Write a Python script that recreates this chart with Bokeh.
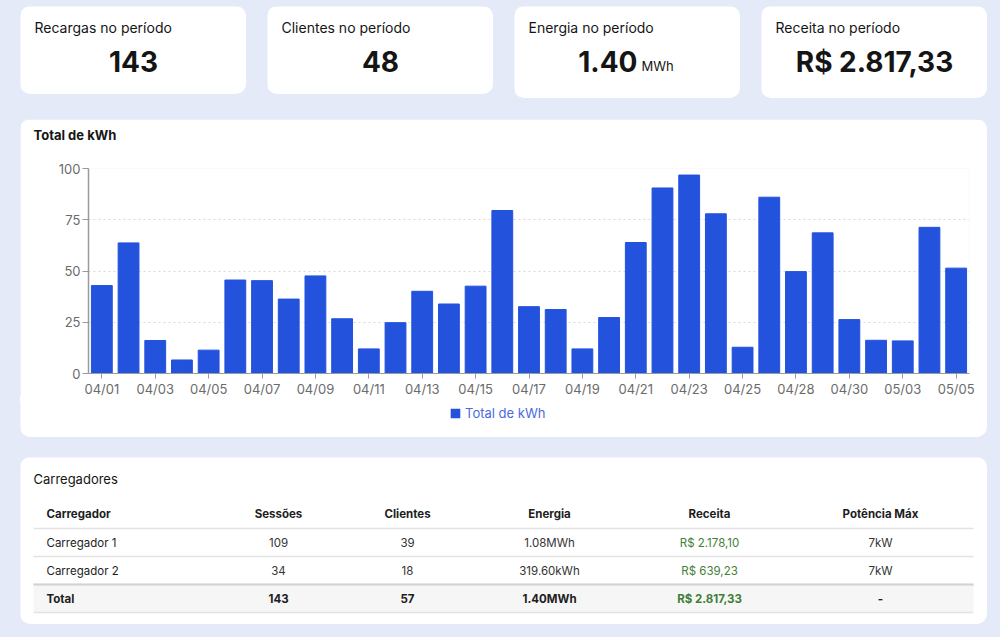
from bokeh.plotting import figure
from bokeh.layouts import column, row
from bokeh.models import Range1d, FixedTicker, Legend, LegendItem, ColumnDataSource, Title
from bokeh.core.properties import value
from bokeh.embed import file_html
from bokeh.resources import INLINE

FONT = "Inter"
PAGE_BG = "#e4eaf7"
BAR_COLOR = "#2352dd"

# ---------------- data ----------------
kpi_titles = ["Recargas no período", "Clientes no período", "Energia no período", "Receita no período"]
kpi_values = ["143", "48", "1.40", "R$ 2.817,33"]
kpi_units = ["", "", "MWh", ""]

dates = ["04/01", "04/02", "04/03", "04/04", "04/05", "04/06", "04/07", "04/08", "04/09", "04/10",
         "04/11", "04/12", "04/13", "04/14", "04/15", "04/16", "04/17", "04/18", "04/19", "04/20",
         "04/21", "04/22", "04/23", "04/24", "04/25", "04/27", "04/28", "04/29", "04/30", "05/02",
         "05/03", "05/04", "05/05"]
kwh = [42.9, 63.7, 16.1, 6.6, 11.4, 45.6, 45.3, 36.3, 47.6, 26.7,
       12.0, 24.8, 40.1, 33.9, 42.6, 79.5, 32.6, 31.2, 12.0, 27.3,
       63.9, 90.5, 96.8, 77.9, 12.8, 86.0, 49.7, 68.6, 26.3, 16.2,
       15.9, 71.3, 51.4]
series_name = "Total de kWh"

table_headers = ["Carregador", "Sessões", "Clientes", "Energia", "Receita", "Potência Máx"]
chargers = ["Carregador 1", "Carregador 2", "Total"]
sessions = ["109", "34", "143"]
clients = ["39", "18", "57"]
energy = ["1.08MWh", "319.60kWh", "1.40MWh"]
revenue = ["R$ 2.178,10", "R$ 639,23", "R$ 2.817,33"]
power = ["7kW", "7kW", "-"]

CARD_STYLE = {"border-radius": "10px", "overflow": "hidden"}


def blank_fig(w, h, styles=CARD_STYLE):
    p = figure(width=w, height=h, x_range=Range1d(0, w), y_range=Range1d(h, 0),
               toolbar_location=None, output_backend="svg", min_border=0,
               x_axis_location=None, y_axis_location=None, styles=styles)
    p.grid.visible = False
    p.outline_line_color = None
    p.background_fill_color = "white"
    p.border_fill_color = "white"
    return p


def page_block(child, h, bg=PAGE_BG):
    return column(child, width=1000, height=h, styles={"background": bg})


# ---------------- KPI cards ----------------
cards = []
heights = [88, 88, 92, 92]
for i in range(4):
    w, h = 226, heights[i]
    c = blank_fig(w, h)
    c.text(x=[14], y=[21], text=[kpi_titles[i]], text_font=value(FONT), text_font_size="14px",
           text_baseline="middle", text_align="left", text_color="#151515")
    if kpi_units[i]:
        c.text(x=[w / 2 + 10], y=[55], text=[kpi_values[i]], text_font=value(FONT),
               text_font_size="28px", text_font_style="bold", text_baseline="middle",
               text_align="right", text_color="#151515")
        c.text(x=[w / 2 + 14], y=[59], text=[kpi_units[i]], text_font=value(FONT),
               text_font_size="13px", text_baseline="middle",
               text_align="left", text_color="#151515")
    else:
        c.text(x=[w / 2], y=[55], text=[kpi_values[i]], text_font=value(FONT),
               text_font_size="28px", text_font_style="bold", text_baseline="middle",
               text_align="center", text_color="#151515")
    c.margin = (0, 21 if i < 3 else 0, 0, 0)
    cards.append(c)

cards_row = row(*cards, margin=(6, 0, 0, 20))

# ---------------- bar chart ----------------
xs = list(range(len(dates)))
src = ColumnDataSource(dict(x=xs, kwh=kwh, date=dates))
p = figure(width=967, height=280, x_range=Range1d(-0.5, len(dates) - 0.5), y_range=Range1d(0, 100),
           toolbar_location=None, output_backend="svg",
           min_border_left=68, min_border_right=18, min_border_top=44, min_border_bottom=25,
           title="Total de kWh",
           styles={"border-radius": "10px 10px 0 0", "overflow": "hidden"})
p.margin = (0, 0, 0, 20)
p.background_fill_color = "white"
p.border_fill_color = "white"
p.outline_line_color = None
p.title.text_font = FONT
p.title.text_font_size = "13px"
p.title.text_font_style = "bold"
p.title.text_color = "#151515"
p.title.align = "left"
p.title.offset = -55
# small empty title between the main title and the frame, lifting the title up
p.add_layout(Title(text="\u00a0", text_font_size="8px", text_color="white"), "above")

r = p.vbar(x="x", top="kwh", width=0.78, source=src, fill_color=BAR_COLOR, line_color=BAR_COLOR)

p.xgrid.visible = False
p.ygrid.grid_line_color = "#d9d9d9"
p.ygrid.grid_line_dash = "2 3"
p.ygrid.ticker = FixedTicker(ticks=[25, 50, 75, 100])

p.yaxis.ticker = FixedTicker(ticks=[0, 25, 50, 75, 100])
p.yaxis.minor_tick_line_color = None
p.yaxis.major_tick_in = 0
p.yaxis.major_tick_out = 6
p.yaxis.axis_line_color = "#9a9a9a"
p.yaxis.axis_line_width = 1.5
p.yaxis.major_tick_line_color = "#9a9a9a"
p.yaxis.major_label_text_font = FONT
p.yaxis.major_label_text_font_size = "13px"
p.yaxis.major_label_text_color = "#6b6b6b"
p.yaxis.major_label_standoff = 2

tick_idx = xs[::2]
p.xaxis.ticker = FixedTicker(ticks=tick_idx)
p.xaxis.major_label_overrides = {i: dates[i] for i in tick_idx}
p.xaxis.minor_tick_line_color = None
p.xaxis.major_tick_in = 0
p.xaxis.major_tick_out = 5
p.xaxis.axis_line_color = "#9a9a9a"
p.xaxis.major_tick_line_color = "#9a9a9a"
p.xaxis.major_label_text_font = FONT
p.xaxis.major_label_text_font_size = "13px"
p.xaxis.major_label_text_color = "#6b6b6b"
p.xaxis.major_label_standoff = 2

# legend strip (bottom of the chart card)
lf = blank_fig(967, 38, styles={"border-radius": "0 0 10px 10px", "overflow": "hidden"})
lf.margin = (0, 0, 0, 20)
swatch = lf.vbar(x=[0], top=[0], bottom=[0], width=0.78, fill_color=BAR_COLOR, line_color=None)
legend = Legend(items=[LegendItem(label=series_name, renderers=[swatch], index=0)], orientation="horizontal",
                location=(429, 16), margin=0, padding=4, glyph_width=12, glyph_height=12,
                label_height=14, label_standoff=4, border_line_color=None,
                background_fill_alpha=0, label_text_font=FONT, label_text_font_size="13px",
                label_text_color="#4a6be0")
lf.add_layout(legend)

# ---------------- table ----------------
TW, TH = 967, 167
t = blank_fig(TW, TH)
t.margin = (0, 0, 0, 20)
t.text(x=[13], y=[21], text=["Carregadores"], text_font=value(FONT), text_font_size="13px",
       text_baseline="middle", text_color="#151515")

col_x = [26, 258, 387, 529, 689, 860]
col_align = ["left"] + ["center"] * 5
header_y = 56
row_h = 28
row_ys = [header_y + row_h * (i + 1) + 1 for i in range(len(chargers))]

t.quad(left=[13], right=[953], top=[row_ys[-1] - 14], bottom=[row_ys[-1] + 14],
       fill_color="#f6f6f6", line_color=None)
line_ys = [header_y + 15] + [y + 14 for y in row_ys]
t.segment(x0=[13] * len(line_ys), x1=[953] * len(line_ys), y0=line_ys, y1=line_ys,
          line_color="#e3e3e3", line_width=1.5)
t.segment(x0=[13], x1=[953], y0=[row_ys[-1] - 14], y1=[row_ys[-1] - 14], line_color="#d2d2d2", line_width=2)

for j, htxt in enumerate(table_headers):
    t.text(x=[col_x[j]], y=[header_y], text=[htxt], text_font=value(FONT), text_font_size="11.5px",
           text_font_style="bold", text_align=col_align[j], text_baseline="middle", text_color="#1d1d1d")

columns = [chargers, sessions, clients, energy, revenue, power]
for j, colvals in enumerate(columns):
    for i, v in enumerate(colvals):
        is_total = i == len(chargers) - 1
        color = "#3f7f37" if j == 4 else ("#1d1d1d" if (is_total or j == 0) else "#333333")
        style = "bold" if is_total else "normal"
        t.text(x=[col_x[j]], y=[row_ys[i]], text=[v], text_font=value(FONT), text_font_size="11.5px",
               text_font_style=style, text_align=col_align[j], text_baseline="middle", text_color=color)

seam_bottom = f"linear-gradient(white, white) 20px 100% / 967px 3px no-repeat, {PAGE_BG}"
seam_top = f"linear-gradient(white, white) 20px 0 / 967px 3px no-repeat, {PAGE_BG}"
roots = [page_block(cards_row, 119), page_block(p, 280, seam_bottom),
         page_block(lf, 58, seam_top), page_block(t, 180)]

open("out.html", "w").write(file_html(roots, INLINE))
